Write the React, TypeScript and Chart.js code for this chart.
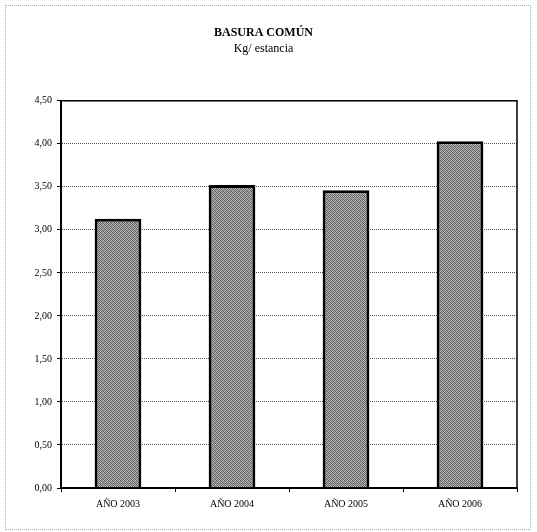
import React, { useEffect, useRef } from "react";
import { Chart, registerables } from "chart.js";

Chart.register(...registerables);

const categories = ["AÑO 2003", "AÑO 2004", "AÑO 2005", "AÑO 2006"];
const values = [3.13, 3.52, 3.46, 4.03];
const chartTitle = "BASURA COMÚN";
const chartSubtitle = "Kg/ estancia";

const FONT = "'Liberation Serif', 'Times New Roman', serif";

const frameBox = {
  id: "frameBox",
  afterDatasetsDraw(chart: any) {
    const { ctx, chartArea } = chart;
    ctx.save();
    ctx.strokeStyle = "#000";
    ctx.lineWidth = 1.5;
    ctx.strokeRect(chartArea.left, chartArea.top, chartArea.right - chartArea.left, chartArea.bottom - chartArea.top);
    ctx.restore();
  },
};

function makePattern(): CanvasPattern | string {
  const c = document.createElement("canvas");
  c.width = 4;
  c.height = 4;
  const g = c.getContext("2d");
  if (!g) return "#8a8a8a";
  const cells = [
    "#5a5a5a", "#b0b0b0", "#707070", "#c4c4c4",
    "#a8a8a8", "#606060", "#bcbcbc", "#6a6a6a",
    "#747474", "#c0c0c0", "#585858", "#aaaaaa",
    "#b8b8b8", "#6e6e6e", "#a4a4a4", "#5e5e5e",
  ];
  cells.forEach((col, i) => {
    g.fillStyle = col;
    g.fillRect(i % 4, Math.floor(i / 4), 1, 1);
  });
  return g.createPattern(c, "repeat") || "#8a8a8a";
}

export default function App() {
  const ref = useRef<HTMLCanvasElement>(null);
  useEffect(() => {
    document.body.style.margin = "0";
    const chart = new Chart(ref.current!, {
      type: "bar",
      data: {
        labels: categories,
        datasets: [
          {
            data: values,
            backgroundColor: makePattern(),
            borderColor: "#000",
            borderWidth: 3,
            barPercentage: 0.41,
            categoryPercentage: 1,
          },
        ],
      },
      options: {
        animation: false,
        responsive: false,
        devicePixelRatio: 1,
        layout: { padding: { left: 10, right: 20, top: 4, bottom: 18 } },
        plugins: {
          legend: { display: false },
          tooltip: { enabled: false },
          title: {
            display: true,
            text: chartTitle,
            color: "#000",
            font: { family: FONT, size: 12, weight: "bold" },
            padding: { top: 22, bottom: 0 },
          },
          subtitle: {
            display: true,
            text: chartSubtitle,
            color: "#000",
            font: { family: FONT, size: 12 },
            padding: { top: 1, bottom: 45 },
          },
        },
        scales: {
          x: {
            afterFit: (s: any) => { s.height = 26; },
            grid: { display: true, drawOnChartArea: false, drawTicks: true, tickLength: 4, color: "#000", offset: true },
            border: { display: true, color: "#000", width: 2 },
            ticks: { color: "#000", font: { family: FONT, size: 10 }, padding: 6 },
          },
          y: {
            min: 0,
            max: 4.5,
            afterFit: (s: any) => { s.width = 51; },
            ticks: {
              stepSize: 0.5,
              color: "#000",
              font: { family: FONT, size: 10 },
              padding: 5,
              callback: (v: any) => Number(v).toFixed(2).replace(".", ","),
            },
            grid: { color: "#555", lineWidth: 1, tickLength: 4, tickColor: "#000", tickBorderDash: [], tickWidth: 1 } as any,
            border: { display: true, color: "#000", width: 2, dash: [1, 1] },
          },
        },
      } as any,
      plugins: [frameBox],
    });
    return () => chart.destroy();
  }, []);
  return (
    <div style={{ position: "relative", width: 537, height: 532, background: "#fff" }}>
      <div style={{ position: "absolute", left: 5, top: 5, width: 526, height: 525, border: "1px dotted #aaa", boxSizing: "border-box" }} />
      <canvas ref={ref} width={537} height={532} style={{ position: "absolute", left: 0, top: 0 }} />
    </div>
  );
}
